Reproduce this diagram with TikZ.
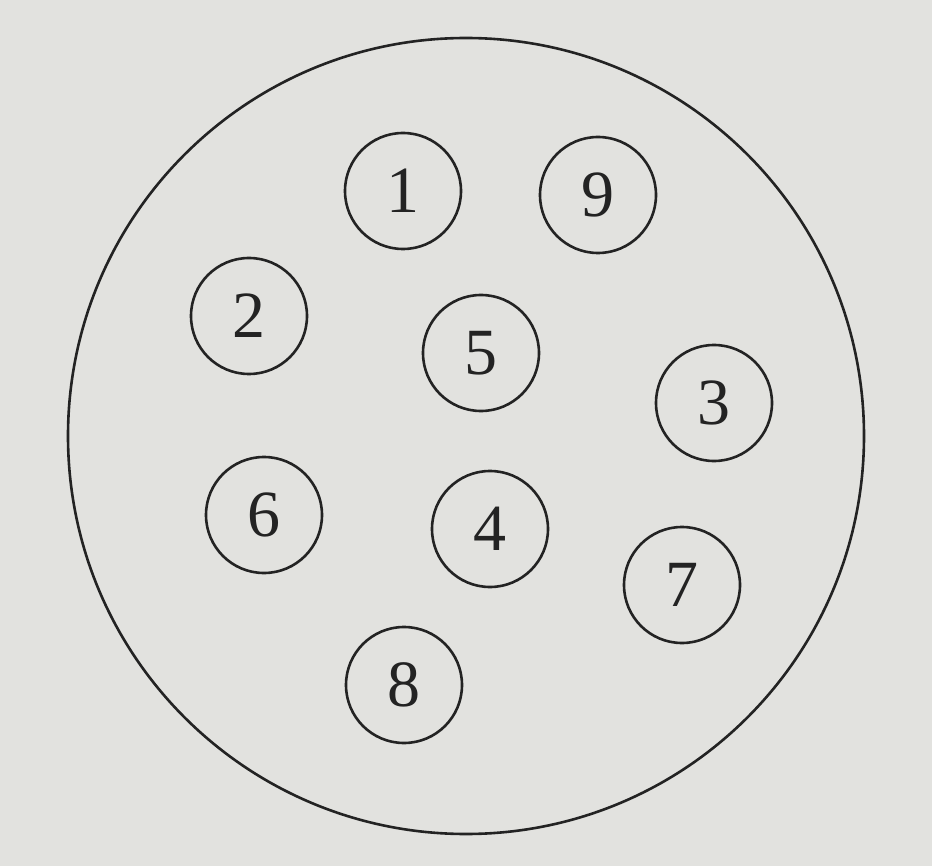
\documentclass[tikz,border=0pt]{standalone}
\usepackage{fontspec}
\setmainfont{Liberation Serif}
\usepackage{xcolor}
\definecolor{Paper}{RGB}{226,226,223}
\definecolor{Ink}{RGB}{35,35,35}
\tikzstyle{Pin}=[circle,draw=Ink,line width=1.3pt,minimum size=58pt,inner sep=0pt,
  text=Ink,font=\fontsize{33}{33}\selectfont]
\tikzstyle{Shell}=[draw=Ink,line width=1.3pt]
\begin{document}
\begin{tikzpicture}[x=0.5pt,y=-0.5pt]
        \fill[Paper](0,0)rectangle(932,866);
        \useasboundingbox(0,0)rectangle(932,866);
        \node[Shell,circle,minimum size=398pt,inner sep=0pt](S)at(466,436){};
        \node[Pin](1)at(403,191){1};
        \node[Pin](9)at(598,195){9};
        \node[Pin](2)at(249,316){2};
        \node[Pin](5)at(481,353){5};
        \node[Pin](3)at(714,403){3};
        \node[Pin](6)at(264,515){6};
        \node[Pin](4)at(490,529){4};
        \node[Pin](7)at(682,585){7};
        \node[Pin](8)at(404,685){8};
    \end{tikzpicture}
\end{document}
